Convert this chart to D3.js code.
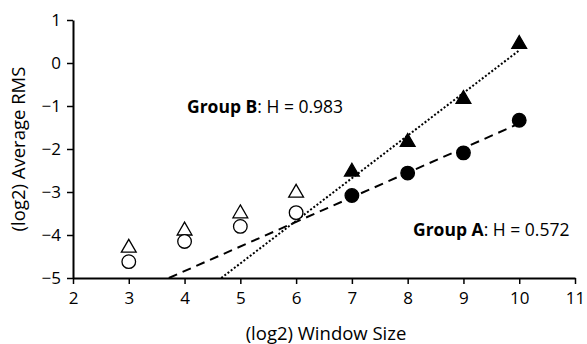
<!DOCTYPE html>
<html>
<head>
	<meta charset="utf-8">
	<title>Hurst</title>
	<script src="https://cdn.jsdelivr.net/npm/d3@7"></script>
	<style>
		body { margin: 0; background: #fff; font-family: "Open Sans", Calibri, sans-serif; }
	</style>
</head>
<body>
	<div id="chart"></div>
	<script>

	// data
	const windowSizes = [3, 4, 5, 6, 7, 8, 9, 10];
	const groupA      = [-4.62, -4.15, -3.80, -3.48, -3.08, -2.56, -2.09, -1.33];
	const groupB      = [-4.30, -3.90, -3.50, -3.02, -2.53, -1.84, -0.84, 0.44];
	const fitFrom     = 4;   // index of first point used in the trend lines (filled markers)
	const xTicks      = [2, 3, 4, 5, 6, 7, 8, 9, 10, 11];
	const yTicks      = [1, 0, -1, -2, -3, -4, -5];
	const labelA      = ["Group A", ": H = 0.572"];
	const labelB      = ["Group B", ": H = 0.983"];

	const width  = 587;
	const height = 344;
	const margin = { top: 20, right: 12, bottom: 66, left: 73 };
	const font   = "Open Sans";
	const fs     = 17;

	const x = d3.scaleLinear().domain([2, 11]).range([margin.left, width - margin.right]);
	const y = d3.scaleLinear().domain([-5, 1]).range([height - margin.bottom, margin.top]);

	const svg = d3.select("#chart").append("svg")
		.attr("width", width)
		.attr("height", height);

	// least squares fit over the filled points
	function fit(ys) {
		const X = windowSizes.slice(fitFrom), Y = ys.slice(fitFrom);
		const mx = d3.mean(X), my = d3.mean(Y);
		const b = d3.sum(X, (v, i) => (v - mx) * (Y[i] - my)) / d3.sum(X, v => (v - mx) ** 2);
		return { b, a: my - b * mx };
	}

	function trend(ys, dash) {
		const f = fit(ys);
		const x0 = Math.max(2, (-5 - f.a) / f.b);
		svg.append("line")
			.attr("x1", x(x0)).attr("y1", y(f.a + f.b * x0))
			.attr("x2", x(10)).attr("y2", y(f.a + f.b * 10))
			.attr("stroke", "#000")
			.attr("stroke-width", 2)
			.attr("stroke-dasharray", dash);
	}

	// axes
	svg.append("g")
		.attr("transform", `translate(0,${y(-5)})`)
		.call(d3.axisBottom(x).tickValues(xTicks).tickFormat(d3.format("d")).tickSize(6).tickSizeOuter(0).tickPadding(8))
		.call(g => g.select(".domain").attr("stroke-width", 2))
		.call(g => g.selectAll(".tick line").attr("stroke-width", 1.5))
		.call(g => g.selectAll("text").attr("font-size", fs).attr("font-family", font).attr("fill", "#000"));

	svg.append("g")
		.attr("transform", `translate(${x(2)},0)`)
		.call(d3.axisLeft(y).tickValues(yTicks).tickFormat(d3.format("d")).tickSize(6).tickSizeOuter(0).tickPadding(6))
		.call(g => g.select(".domain").attr("stroke-width", 2))
		.call(g => g.selectAll(".tick line").attr("stroke-width", 1.5))
		.call(g => g.selectAll("text").attr("font-size", fs).attr("font-family", font).attr("fill", "#000"));

	trend(groupA, "9,6");
	trend(groupB, "2,2");

	// markers
	const tri = d3.symbol().type(d3.symbolTriangle).size(95);

	svg.append("g").selectAll("path")
		.data(windowSizes)
		.join("path")
		.attr("d", tri)
		.attr("transform", (d, i) => `translate(${x(d)},${y(groupB[i])})`)
		.attr("fill", (d, i) => i >= fitFrom ? "#000" : "#fff")
		.attr("stroke", "#000")
		.attr("stroke-width", 1.3);

	svg.append("g").selectAll("circle")
		.data(windowSizes)
		.join("circle")
		.attr("cx", d => x(d))
		.attr("cy", (d, i) => y(groupA[i]))
		.attr("r", 6.8)
		.attr("fill", (d, i) => i >= fitFrom ? "#000" : "#fff")
		.attr("stroke", "#000")
		.attr("stroke-width", 1.3);

	// annotations
	function note(lbl, px, py) {
		const t = svg.append("text")
			.attr("x", px).attr("y", py)
			.attr("font-size", 17.5)
			.attr("font-family", font)
			.attr("dominant-baseline", "middle");
		t.append("tspan").attr("font-weight", "bold").text(lbl[0]);
		t.append("tspan").text(lbl[1]);
	}
	note(labelB, 187, 108);
	note(labelA, 413, 231);

	// axis titles
	svg.append("text")
		.attr("x", 326).attr("y", 335)
		.attr("text-anchor", "middle")
		.attr("dominant-baseline", "middle")
		.attr("font-size", 18.5)
		.attr("font-family", font)
		.text("(log2) Window Size");

	svg.append("text")
		.attr("transform", `translate(20,149) rotate(-90)`)
		.attr("text-anchor", "middle")
		.attr("dominant-baseline", "middle")
		.attr("font-size", 18.5)
		.attr("font-family", font)
		.text("(log2) Average RMS");

	</script>
</body>
</html>
